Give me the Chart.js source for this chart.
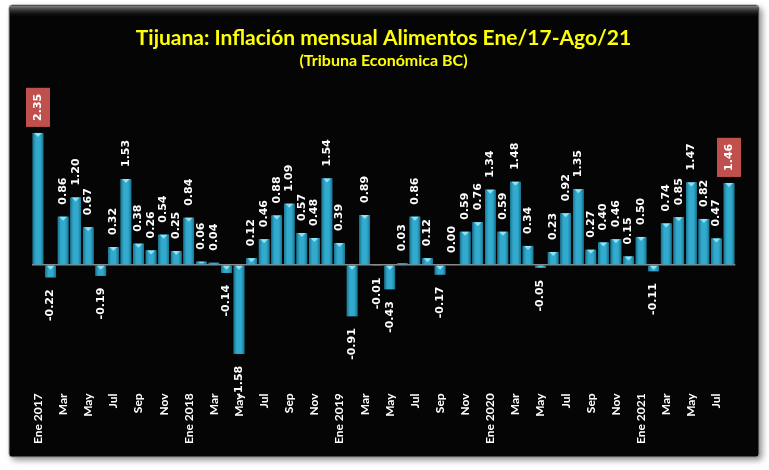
<!DOCTYPE html>
<html>
<head>
<meta charset="utf-8">
<script src="https://cdn.jsdelivr.net/npm/chart.js@4.4.0/dist/chart.umd.min.js"></script>
<style>
  html, body { margin: 0; padding: 0; background: #fff; }
  #wrap { width: 769px; height: 470px; position: relative; }
</style>
</head>
<body>
<div id="wrap"><canvas id="chart"></canvas></div>
<script>
// meses Ene 2017 - Ago 2021
const months = [
  "Ene 2017", "Feb", "Mar", "Abr", "May", "Jun", "Jul", "Ago", "Sep", "Oct", "Nov", "Dic",
  "Ene 2018", "Feb", "Mar", "Abr", "May", "Jun", "Jul", "Ago", "Sep", "Oct", "Nov", "Dic",
  "Ene 2019", "Feb", "Mar", "Abr", "May", "Jun", "Jul", "Ago", "Sep", "Oct", "Nov", "Dic",
  "Ene 2020", "Feb", "Mar", "Abr", "May", "Jun", "Jul", "Ago", "Sep", "Oct", "Nov", "Dic",
  "Ene 2021", "Feb", "Mar", "Abr", "May", "Jun", "Jul", "Ago"
];

// inflacion mensual alimentos (%)
const inflacion = [
  2.35, -0.22, 0.86, 1.20, 0.67, -0.19, 0.32, 1.53, 0.38, 0.26, 0.54, 0.25,
  0.84, 0.06, 0.04, -0.14, -1.58, 0.12, 0.46, 0.88, 1.09, 0.57, 0.48, 1.54,
  0.39, -0.91, 0.89, -0.01, -0.43, 0.03, 0.86, 0.12, -0.17, 0.00, 0.59, 0.76,
  1.34, 0.59, 1.48, 0.34, -0.05, 0.23, 0.92, 1.35, 0.27, 0.40, 0.46, 0.15,
  0.50, -0.11, 0.74, 0.85, 1.47, 0.82, 0.47, 1.46
];

// etiquetas resaltadas (primer y ultimo dato)
const resaltados = [0, inflacion.length - 1];

const yMin = -2;
const yMax = 3;

// fondo negro con borde y sombra
const fondoPlugin = {
  id: "fondo",
  beforeDraw(chart) {
    const ctx = chart.ctx;
    const w = chart.width, h = chart.height;
    ctx.save();
    ctx.fillStyle = "#ffffff";
    ctx.fillRect(0, 0, w, h);
    ctx.shadowColor = "rgba(0,0,0,0.45)";
    ctx.shadowBlur = 6;
    ctx.shadowOffsetX = 3;
    ctx.shadowOffsetY = 3;
    ctx.fillStyle = "#050505";
    ctx.beginPath();
    ctx.roundRect(9, 5, 750, 452, 3);
    ctx.fill();
    ctx.shadowColor = "transparent";
    ctx.strokeStyle = "#9a9a9a";
    ctx.lineWidth = 1;
    ctx.stroke();
    const g = ctx.createLinearGradient(0, 6, 0, 18);
    g.addColorStop(0, "rgba(150,150,150,0.85)");
    g.addColorStop(1, "rgba(0,0,0,0)");
    ctx.fillStyle = g;
    ctx.fillRect(10, 6, 748, 12);
    ctx.restore();
  }
};

// sombreado de las barras + etiquetas de datos
const barrasPlugin = {
  id: "barras",
  afterDatasetsDraw(chart) {
    const ctx = chart.ctx;
    const meta = chart.getDatasetMeta(0);
    const data = chart.data.datasets[0].data;
    ctx.save();
    meta.data.forEach((bar, i) => {
      const { x, y, base, width } = bar.getProps(["x", "y", "base", "width"], true);
      const left = x - width / 2;
      const top = Math.min(y, base);
      const hgt = Math.abs(base - y);
      const g = ctx.createLinearGradient(left, 0, left + width, 0);
      g.addColorStop(0, "#1a7693");
      g.addColorStop(0.3, "#31aacd");
      g.addColorStop(0.7, "#31aacd");
      g.addColorStop(1, "#1a7693");
      ctx.fillStyle = g;
      ctx.fillRect(left, top, width, hgt);
      if (hgt > 2) {
        const th = Math.min(4, hgt - 1);
        ctx.fillStyle = "#8fe3f5";
        ctx.beginPath();
        ctx.moveTo(left + 1.5, top);
        ctx.lineTo(left + width - 1.5, top);
        ctx.lineTo(x, top + th);
        ctx.closePath();
        ctx.fill();
      }
    });

    ctx.font = "bold 11px 'DejaVu Sans'";
    ctx.textBaseline = "middle";
    meta.data.forEach((bar, i) => {
      const v = data[i];
      const txt = v.toFixed(2);
      const { x, y } = bar.getProps(["x", "y"], true);
      const tw = ctx.measureText(txt).width;
      ctx.save();
      if (resaltados.includes(i)) {
        const bw = 24, bh = tw + 12;
        ctx.fillStyle = "#c0504d";
        ctx.fillRect(x - bw / 2, y - 6 - bh, bw, bh);
        ctx.translate(x, y - 6 - bh / 2);
        ctx.rotate(-Math.PI / 2);
        ctx.fillStyle = "#ffffff";
        ctx.textAlign = "center";
        ctx.fillText(txt, 0, 0);
      } else if (v >= 0) {
        ctx.translate(x, y - 12);
        ctx.rotate(-Math.PI / 2);
        ctx.fillStyle = "#ffffff";
        ctx.textAlign = "left";
        ctx.fillText(txt, 0, 0);
      } else {
        ctx.translate(x, y + 12);
        ctx.rotate(-Math.PI / 2);
        ctx.fillStyle = "#ffffff";
        ctx.textAlign = "right";
        ctx.fillText(txt, 0, 0);
      }
      ctx.restore();
    });
    ctx.restore();
  }
};

const ctx = document.getElementById("chart").getContext("2d");
new Chart(ctx, {
  type: "bar",
  data: {
    labels: months,
    datasets: [{
      data: inflacion,
      backgroundColor: "#2aa3c6",
      borderWidth: 0,
      barPercentage: 0.84,
      categoryPercentage: 1
    }]
  },
  options: {
    responsive: true,
    maintainAspectRatio: false,
    animation: false,
    layout: { padding: { left: 31.7, right: 33.7, top: 0, bottom: 12.6 } },
    scales: {
      x: {
        grid: { display: false },
        border: { display: false },
        ticks: {
          autoSkip: false,
          minRotation: 90,
          maxRotation: 90,
          padding: 8,
          color: "#ffffff",
          font: { family: "Lato", weight: "bold", size: 12 },
          callback: function (val, idx) {
            return idx % 2 === 0 ? this.getLabelForValue(val) : "";
          }
        },
        afterFit: (scale) => { scale.height = 80; }
      },
      y: {
        min: yMin,
        max: yMax,
        ticks: { display: false, stepSize: 1 },
        border: { display: false },
        grid: {
          drawTicks: false,
          lineWidth: 1.5,
          color: (c) => (c.tick && c.tick.value === 0 ? "#8a8a8a" : "transparent")
        }
      }
    },
    plugins: {
      legend: { display: false },
      tooltip: { enabled: false },
      title: {
        display: true,
        text: "Tijuana: Inflación mensual Alimentos Ene/17-Ago/21",
        color: "#ffff00",
        font: { family: "Lato", weight: "bold", size: 21, lineHeight: 1.2 },
        padding: { top: 26, bottom: 0 }
      },
      subtitle: {
        display: true,
        text: "(Tribuna Económica BC)",
        color: "#ffff00",
        font: { family: "Lato", weight: "bold", size: 16, lineHeight: 1.2 },
        padding: { top: 0, bottom: 26 }
      }
    }
  },
  plugins: [fondoPlugin, barrasPlugin]
});
</script>
</body>
</html>
